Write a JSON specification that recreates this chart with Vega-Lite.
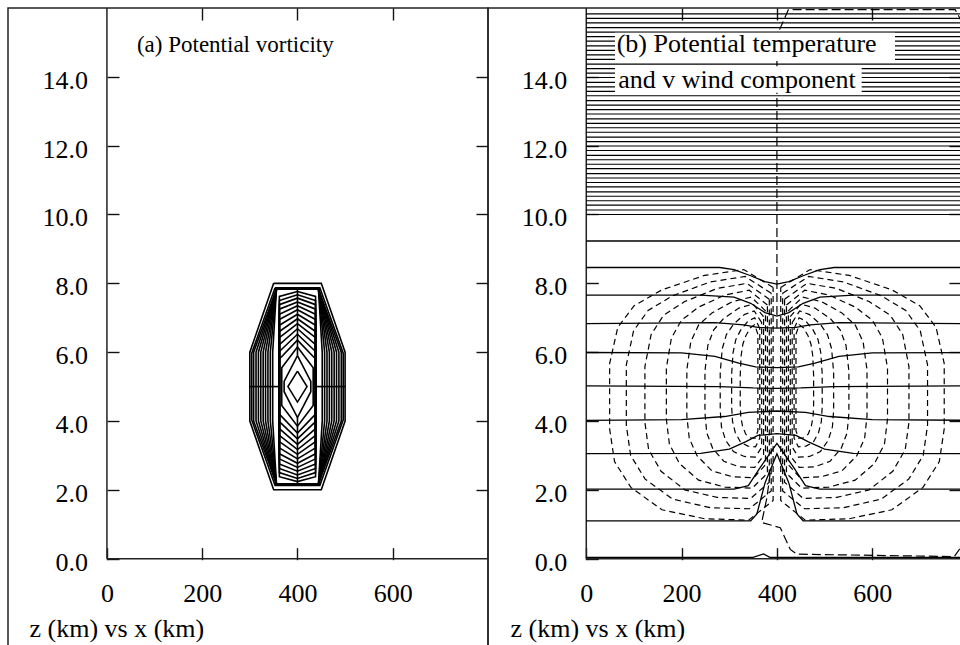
{
"$schema": "https://vega.github.io/schema/vega-lite/v6.json",
"background": "white",
"padding": {"left": 7, "top": 6, "right": 0, "bottom": 0},
"spacing": 0,
"bounds": "flush",
"config": {
  "view": {"stroke": "#222", "strokeWidth": 1.5},
  "font": "Liberation Serif",
  "axis": {"labelFont": "Liberation Serif", "labelFontSize": 26, "labelColor": "black", "tickColor": "#111", "tickWidth": 1.4, "domain": false, "grid": false, "titleFont": "Liberation Serif", "titleFontSize": 26, "titleFontWeight": "normal", "titleColor": "black", "labelFlush": false, "labelOverlap": false, "labelBound": false, "tickSize": -12}
},
"datasets": {
  "pv": [
    {"c":"c0","o":0,"x":350,"y":8},{"c":"c0","o":1,"x":450,"y":8},{"c":"c0","o":2,"x":500,"y":6},{"c":"c0","o":3,"x":500,"y":4},{"c":"c0","o":4,"x":450,"y":2},{"c":"c0","o":5,"x":350,"y":2},{"c":"c0","o":6,"x":300,"y":4},{"c":"c0","o":7,"x":300,"y":6},{"c":"c0","o":8,"x":350,"y":8},
    {"c":"c1","o":0,"x":353,"y":7.87},{"c":"c1","o":1,"x":447,"y":7.87},{"c":"c1","o":2,"x":496,"y":5.97},{"c":"c1","o":3,"x":496,"y":4.03},{"c":"c1","o":4,"x":447,"y":2.13},{"c":"c1","o":5,"x":353,"y":2.13},{"c":"c1","o":6,"x":304,"y":4.03},{"c":"c1","o":7,"x":304,"y":5.97},{"c":"c1","o":8,"x":353,"y":7.87},
    {"c":"s1","o":0,"x":356,"y":7.84},{"c":"s1","o":1,"x":444,"y":7.84},{"c":"s1","o":2,"x":492,"y":6},{"c":"s1","o":3,"x":492,"y":4},{"c":"s1","o":4,"x":444,"y":2.16},{"c":"s1","o":5,"x":356,"y":2.16},{"c":"s1","o":6,"x":308,"y":4},{"c":"s1","o":7,"x":308,"y":6},{"c":"s1","o":8,"x":356,"y":7.84},
    {"c":"s2","o":0,"x":356,"y":7.84},{"c":"s2","o":1,"x":444,"y":7.84},{"c":"s2","o":2,"x":487,"y":6},{"c":"s2","o":3,"x":487,"y":4},{"c":"s2","o":4,"x":444,"y":2.16},{"c":"s2","o":5,"x":356,"y":2.16},{"c":"s2","o":6,"x":313,"y":4},{"c":"s2","o":7,"x":313,"y":6},{"c":"s2","o":8,"x":356,"y":7.84},
    {"c":"s3","o":0,"x":356,"y":7.84},{"c":"s3","o":1,"x":444,"y":7.84},{"c":"s3","o":2,"x":482,"y":6},{"c":"s3","o":3,"x":482,"y":4},{"c":"s3","o":4,"x":444,"y":2.16},{"c":"s3","o":5,"x":356,"y":2.16},{"c":"s3","o":6,"x":318,"y":4},{"c":"s3","o":7,"x":318,"y":6},{"c":"s3","o":8,"x":356,"y":7.84},
    {"c":"s4","o":0,"x":356,"y":7.84},{"c":"s4","o":1,"x":444,"y":7.84},{"c":"s4","o":2,"x":477,"y":6},{"c":"s4","o":3,"x":477,"y":4},{"c":"s4","o":4,"x":444,"y":2.16},{"c":"s4","o":5,"x":356,"y":2.16},{"c":"s4","o":6,"x":323,"y":4},{"c":"s4","o":7,"x":323,"y":6},{"c":"s4","o":8,"x":356,"y":7.84},
    {"c":"s5","o":0,"x":356,"y":7.84},{"c":"s5","o":1,"x":444,"y":7.84},{"c":"s5","o":2,"x":472,"y":6},{"c":"s5","o":3,"x":472,"y":4},{"c":"s5","o":4,"x":444,"y":2.16},{"c":"s5","o":5,"x":356,"y":2.16},{"c":"s5","o":6,"x":328,"y":4},{"c":"s5","o":7,"x":328,"y":6},{"c":"s5","o":8,"x":356,"y":7.84},
    {"c":"s6","o":0,"x":356,"y":7.84},{"c":"s6","o":1,"x":444,"y":7.84},{"c":"s6","o":2,"x":467,"y":6},{"c":"s6","o":3,"x":467,"y":4},{"c":"s6","o":4,"x":444,"y":2.16},{"c":"s6","o":5,"x":356,"y":2.16},{"c":"s6","o":6,"x":333,"y":4},{"c":"s6","o":7,"x":333,"y":6},{"c":"s6","o":8,"x":356,"y":7.84},
    {"c":"s7","o":0,"x":356,"y":7.84},{"c":"s7","o":1,"x":444,"y":7.84},{"c":"s7","o":2,"x":462,"y":6},{"c":"s7","o":3,"x":462,"y":4},{"c":"s7","o":4,"x":444,"y":2.16},{"c":"s7","o":5,"x":356,"y":2.16},{"c":"s7","o":6,"x":338,"y":4},{"c":"s7","o":7,"x":338,"y":6},{"c":"s7","o":8,"x":356,"y":7.84},
    {"c":"s8","o":0,"x":356,"y":7.84},{"c":"s8","o":1,"x":444,"y":7.84},{"c":"s8","o":2,"x":457,"y":6},{"c":"s8","o":3,"x":457,"y":4},{"c":"s8","o":4,"x":444,"y":2.16},{"c":"s8","o":5,"x":356,"y":2.16},{"c":"s8","o":6,"x":343,"y":4},{"c":"s8","o":7,"x":343,"y":6},{"c":"s8","o":8,"x":356,"y":7.84},
    {"c":"s9","o":0,"x":356,"y":7.84},{"c":"s9","o":1,"x":444,"y":7.84},{"c":"s9","o":2,"x":452,"y":6},{"c":"s9","o":3,"x":452,"y":4},{"c":"s9","o":4,"x":444,"y":2.16},{"c":"s9","o":5,"x":356,"y":2.16},{"c":"s9","o":6,"x":348,"y":4},{"c":"s9","o":7,"x":348,"y":6},{"c":"s9","o":8,"x":356,"y":7.84},
    {"c":"j1","o":0,"x":400,"y":5.45},{"c":"j1","o":1,"x":420,"y":5},{"c":"j1","o":2,"x":400,"y":4.55},{"c":"j1","o":3,"x":380,"y":5},{"c":"j1","o":4,"x":400,"y":5.45},
    {"c":"j2","o":0,"x":400,"y":5.9},{"c":"j2","o":1,"x":428,"y":5.15},{"c":"j2","o":2,"x":428,"y":4.85},{"c":"j2","o":3,"x":400,"y":4.1},{"c":"j2","o":4,"x":372,"y":4.85},{"c":"j2","o":5,"x":372,"y":5.15},{"c":"j2","o":6,"x":400,"y":5.9},
    {"c":"j3","o":0,"x":400,"y":6.15},{"c":"j3","o":1,"x":433,"y":5.55},{"c":"j3","o":2,"x":433,"y":4.45},{"c":"j3","o":3,"x":400,"y":3.85},{"c":"j3","o":4,"x":367,"y":4.45},{"c":"j3","o":5,"x":367,"y":5.55},{"c":"j3","o":6,"x":400,"y":6.15},
    {"c":"j4","o":0,"x":400,"y":6.35},{"c":"j4","o":1,"x":438,"y":5.8},{"c":"j4","o":2,"x":438,"y":4.2},{"c":"j4","o":3,"x":400,"y":3.65},{"c":"j4","o":4,"x":362,"y":4.2},{"c":"j4","o":5,"x":362,"y":5.8},{"c":"j4","o":6,"x":400,"y":6.35},
    {"c":"j5","o":0,"x":400,"y":6.52},{"c":"j5","o":1,"x":438,"y":6.02},{"c":"j5","o":2,"x":438,"y":3.98},{"c":"j5","o":3,"x":400,"y":3.48},{"c":"j5","o":4,"x":362,"y":3.98},{"c":"j5","o":5,"x":362,"y":6.02},{"c":"j5","o":6,"x":400,"y":6.52},
    {"c":"j6","o":0,"x":400,"y":6.68},{"c":"j6","o":1,"x":438,"y":6.22},{"c":"j6","o":2,"x":438,"y":3.78},{"c":"j6","o":3,"x":400,"y":3.32},{"c":"j6","o":4,"x":362,"y":3.78},{"c":"j6","o":5,"x":362,"y":6.22},{"c":"j6","o":6,"x":400,"y":6.68},
    {"c":"j7","o":0,"x":400,"y":6.83},{"c":"j7","o":1,"x":438,"y":6.42},{"c":"j7","o":2,"x":438,"y":3.58},{"c":"j7","o":3,"x":400,"y":3.17},{"c":"j7","o":4,"x":362,"y":3.58},{"c":"j7","o":5,"x":362,"y":6.42},{"c":"j7","o":6,"x":400,"y":6.83},
    {"c":"j8","o":0,"x":400,"y":6.97},{"c":"j8","o":1,"x":438,"y":6.6},{"c":"j8","o":2,"x":438,"y":3.4},{"c":"j8","o":3,"x":400,"y":3.03},{"c":"j8","o":4,"x":362,"y":3.4},{"c":"j8","o":5,"x":362,"y":6.6},{"c":"j8","o":6,"x":400,"y":6.97},
    {"c":"j9","o":0,"x":400,"y":7.1},{"c":"j9","o":1,"x":438,"y":6.78},{"c":"j9","o":2,"x":438,"y":3.22},{"c":"j9","o":3,"x":400,"y":2.9},{"c":"j9","o":4,"x":362,"y":3.22},{"c":"j9","o":5,"x":362,"y":6.78},{"c":"j9","o":6,"x":400,"y":7.1},
    {"c":"j10","o":0,"x":400,"y":7.23},{"c":"j10","o":1,"x":438,"y":6.95},{"c":"j10","o":2,"x":438,"y":3.05},{"c":"j10","o":3,"x":400,"y":2.77},{"c":"j10","o":4,"x":362,"y":3.05},{"c":"j10","o":5,"x":362,"y":6.95},{"c":"j10","o":6,"x":400,"y":7.23},
    {"c":"j11","o":0,"x":400,"y":7.35},{"c":"j11","o":1,"x":438,"y":7.1},{"c":"j11","o":2,"x":438,"y":2.9},{"c":"j11","o":3,"x":400,"y":2.65},{"c":"j11","o":4,"x":362,"y":2.9},{"c":"j11","o":5,"x":362,"y":7.1},{"c":"j11","o":6,"x":400,"y":7.35},
    {"c":"j12","o":0,"x":400,"y":7.46},{"c":"j12","o":1,"x":438,"y":7.25},{"c":"j12","o":2,"x":438,"y":2.75},{"c":"j12","o":3,"x":400,"y":2.54},{"c":"j12","o":4,"x":362,"y":2.75},{"c":"j12","o":5,"x":362,"y":7.25},{"c":"j12","o":6,"x":400,"y":7.46},
    {"c":"j13","o":0,"x":400,"y":7.57},{"c":"j13","o":1,"x":438,"y":7.38},{"c":"j13","o":2,"x":438,"y":2.62},{"c":"j13","o":3,"x":400,"y":2.43},{"c":"j13","o":4,"x":362,"y":2.62},{"c":"j13","o":5,"x":362,"y":7.38},{"c":"j13","o":6,"x":400,"y":7.57},
    {"c":"j14","o":0,"x":400,"y":7.67},{"c":"j14","o":1,"x":438,"y":7.5},{"c":"j14","o":2,"x":438,"y":2.5},{"c":"j14","o":3,"x":400,"y":2.33},{"c":"j14","o":4,"x":362,"y":2.5},{"c":"j14","o":5,"x":362,"y":7.5},{"c":"j14","o":6,"x":400,"y":7.67},
    {"c":"j15","o":0,"x":400,"y":7.76},{"c":"j15","o":1,"x":438,"y":7.62},{"c":"j15","o":2,"x":438,"y":2.38},{"c":"j15","o":3,"x":400,"y":2.24},{"c":"j15","o":4,"x":362,"y":2.38},{"c":"j15","o":5,"x":362,"y":7.62},{"c":"j15","o":6,"x":400,"y":7.76},
    {"c":"h1","o":0,"x":300,"y":5},{"c":"h1","o":1,"x":362,"y":5},
    {"c":"h2","o":0,"x":438,"y":5},{"c":"h2","o":1,"x":500,"y":5},
    {"c":"v1","o":0,"x":400,"y":7.84},{"c":"v1","o":1,"x":400,"y":5.9},
    {"c":"v2","o":0,"x":400,"y":4.1},{"c":"v2","o":1,"x":400,"y":2.16}
  ],
  "strat": [
    {"y":10.00},{"y":10.13},{"y":10.27},{"y":10.40},{"y":10.53},{"y":10.66},{"y":10.80},{"y":10.93},{"y":11.06},{"y":11.19},{"y":11.33},{"y":11.46},{"y":11.59},{"y":11.72},{"y":11.86},{"y":11.99},{"y":12.12},{"y":12.25},{"y":12.39},{"y":12.52},{"y":12.65},{"y":12.78},{"y":12.92},{"y":13.05},{"y":13.18},{"y":13.31},{"y":13.45},{"y":13.58},{"y":13.71},{"y":13.84},{"y":13.98},{"y":14.11},{"y":14.24},{"y":14.37},{"y":14.51},{"y":14.64},{"y":14.77},{"y":14.90},{"y":15.04},{"y":15.17},{"y":15.30},{"y":15.43},{"y":15.57},{"y":15.70},{"y":15.83}
  ],
  "theta": [
    {"c":"t0","o":0,"x":0,"y":0.04},{"c":"t0","o":1,"x":350,"y":0.04},{"c":"t0","o":2,"x":372,"y":0.14},{"c":"t0","o":3,"x":385,"y":0.04},{"c":"t0","o":4,"x":800,"y":0.04},
    {"c":"t1","o":0,"x":0,"y":1.1},{"c":"t1","o":1,"x":345,"y":1.1},{"c":"t1","o":2,"x":358,"y":1.3},{"c":"t1","o":3,"x":375,"y":2.2},{"c":"t1","o":4,"x":400,"y":3.05},{"c":"t1","o":5,"x":425,"y":2.2},{"c":"t1","o":6,"x":442,"y":1.3},{"c":"t1","o":7,"x":455,"y":1.1},{"c":"t1","o":8,"x":800,"y":1.1},
    {"c":"t2","o":0,"x":0,"y":2.02},{"c":"t2","o":1,"x":310,"y":2.02},{"c":"t2","o":2,"x":340,"y":2.12},{"c":"t2","o":3,"x":365,"y":2.65},{"c":"t2","o":4,"x":400,"y":3.35},{"c":"t2","o":5,"x":435,"y":2.65},{"c":"t2","o":6,"x":460,"y":2.12},{"c":"t2","o":7,"x":490,"y":2.02},{"c":"t2","o":8,"x":800,"y":2.02},
    {"c":"t3","o":0,"x":0,"y":3.05},{"c":"t3","o":1,"x":240,"y":3.06},{"c":"t3","o":2,"x":300,"y":3.18},{"c":"t3","o":3,"x":335,"y":3.4},{"c":"t3","o":4,"x":360,"y":3.58},{"c":"t3","o":5,"x":400,"y":3.63},{"c":"t3","o":6,"x":440,"y":3.58},{"c":"t3","o":7,"x":465,"y":3.4},{"c":"t3","o":8,"x":500,"y":3.18},{"c":"t3","o":9,"x":560,"y":3.06},{"c":"t3","o":10,"x":800,"y":3.05},
    {"c":"t4","o":0,"x":0,"y":4.02},{"c":"t4","o":1,"x":200,"y":4.04},{"c":"t4","o":2,"x":290,"y":4.13},{"c":"t4","o":3,"x":340,"y":4.25},{"c":"t4","o":4,"x":400,"y":4.29},{"c":"t4","o":5,"x":460,"y":4.25},{"c":"t4","o":6,"x":510,"y":4.13},{"c":"t4","o":7,"x":600,"y":4.04},{"c":"t4","o":8,"x":800,"y":4.02},
    {"c":"t5","o":0,"x":0,"y":5.02},{"c":"t5","o":1,"x":280,"y":5.0},{"c":"t5","o":2,"x":350,"y":4.96},{"c":"t5","o":3,"x":400,"y":4.95},{"c":"t5","o":4,"x":450,"y":4.96},{"c":"t5","o":5,"x":520,"y":5.0},{"c":"t5","o":6,"x":800,"y":5.02},
    {"c":"t6","o":0,"x":0,"y":5.99},{"c":"t6","o":1,"x":200,"y":5.98},{"c":"t6","o":2,"x":270,"y":5.88},{"c":"t6","o":3,"x":320,"y":5.68},{"c":"t6","o":4,"x":355,"y":5.57},{"c":"t6","o":5,"x":400,"y":5.55},{"c":"t6","o":6,"x":445,"y":5.57},{"c":"t6","o":7,"x":480,"y":5.68},{"c":"t6","o":8,"x":530,"y":5.88},{"c":"t6","o":9,"x":600,"y":5.98},{"c":"t6","o":10,"x":800,"y":5.99},
    {"c":"t7","o":0,"x":0,"y":6.83},{"c":"t7","o":1,"x":270,"y":6.86},{"c":"t7","o":2,"x":330,"y":6.79},{"c":"t7","o":3,"x":360,"y":6.72},{"c":"t7","o":4,"x":400,"y":6.7},{"c":"t7","o":5,"x":440,"y":6.72},{"c":"t7","o":6,"x":470,"y":6.79},{"c":"t7","o":7,"x":530,"y":6.86},{"c":"t7","o":8,"x":800,"y":6.83},
    {"c":"t8","o":0,"x":0,"y":7.66},{"c":"t8","o":1,"x":240,"y":7.66},{"c":"t8","o":2,"x":310,"y":7.6},{"c":"t8","o":3,"x":345,"y":7.42},{"c":"t8","o":4,"x":375,"y":7.15},{"c":"t8","o":5,"x":400,"y":7.05},{"c":"t8","o":6,"x":425,"y":7.15},{"c":"t8","o":7,"x":455,"y":7.42},{"c":"t8","o":8,"x":490,"y":7.6},{"c":"t8","o":9,"x":560,"y":7.66},{"c":"t8","o":10,"x":800,"y":7.66},
    {"c":"t9","o":0,"x":0,"y":8.46},{"c":"t9","o":1,"x":280,"y":8.46},{"c":"t9","o":2,"x":310,"y":8.4},{"c":"t9","o":3,"x":345,"y":8.22},{"c":"t9","o":4,"x":375,"y":8.05},{"c":"t9","o":5,"x":400,"y":7.98},{"c":"t9","o":6,"x":425,"y":8.05},{"c":"t9","o":7,"x":455,"y":8.22},{"c":"t9","o":8,"x":490,"y":8.4},{"c":"t9","o":9,"x":520,"y":8.46},{"c":"t9","o":10,"x":800,"y":8.46},
    {"c":"t10","o":0,"x":0,"y":9.23},{"c":"t10","o":1,"x":800,"y":9.23}
  ],
  "vloops": [
    {"c":"k1","o":0,"x":392,"y":7.88},{"c":"k1","o":1,"x":330.3,"y":8.4},{"c":"k1","o":2,"x":248,"y":8.23},{"c":"k1","o":3,"x":158.8,"y":7.81},{"c":"k1","o":4,"x":100.4,"y":7.35},{"c":"k1","o":5,"x":66.1,"y":6.72},{"c":"k1","o":6,"x":49,"y":5.67},{"c":"k1","o":7,"x":49,"y":3.77},{"c":"k1","o":8,"x":59.3,"y":2.82},{"c":"k1","o":9,"x":93.6,"y":2.07},{"c":"k1","o":10,"x":158.8,"y":1.42},{"c":"k1","o":11,"x":248,"y":1.16},{"c":"k1","o":12,"x":340.5,"y":1.12},{"c":"k1","o":13,"x":392,"y":1.69},{"c":"k1","o":14,"x":392,"y":7.88},
    {"c":"m1","o":0,"x":408,"y":7.88},{"c":"m1","o":1,"x":469.7,"y":8.4},{"c":"m1","o":2,"x":552,"y":8.23},{"c":"m1","o":3,"x":641.2,"y":7.81},{"c":"m1","o":4,"x":699.6,"y":7.35},{"c":"m1","o":5,"x":733.9,"y":6.72},{"c":"m1","o":6,"x":751,"y":5.67},{"c":"m1","o":7,"x":751,"y":3.77},{"c":"m1","o":8,"x":740.7,"y":2.82},{"c":"m1","o":9,"x":706.4,"y":2.07},{"c":"m1","o":10,"x":641.2,"y":1.42},{"c":"m1","o":11,"x":552,"y":1.16},{"c":"m1","o":12,"x":459.5,"y":1.12},{"c":"m1","o":13,"x":408,"y":1.69},{"c":"m1","o":14,"x":408,"y":7.88},
    {"c":"k2","o":0,"x":388,"y":7.71},{"c":"k2","o":1,"x":333.3,"y":8.2},{"c":"k2","o":2,"x":260.3,"y":8.04},{"c":"k2","o":3,"x":181.3,"y":7.64},{"c":"k2","o":4,"x":129.6,"y":7.21},{"c":"k2","o":5,"x":99.2,"y":6.62},{"c":"k2","o":6,"x":84,"y":5.63},{"c":"k2","o":7,"x":84,"y":3.87},{"c":"k2","o":8,"x":93.1,"y":3.0},{"c":"k2","o":9,"x":123.5,"y":2.31},{"c":"k2","o":10,"x":181.3,"y":1.73},{"c":"k2","o":11,"x":260.3,"y":1.48},{"c":"k2","o":12,"x":342.4,"y":1.45},{"c":"k2","o":13,"x":388,"y":1.97},{"c":"k2","o":14,"x":388,"y":7.71},
    {"c":"m2","o":0,"x":412,"y":7.71},{"c":"m2","o":1,"x":466.7,"y":8.2},{"c":"m2","o":2,"x":539.7,"y":8.04},{"c":"m2","o":3,"x":618.7,"y":7.64},{"c":"m2","o":4,"x":670.4,"y":7.21},{"c":"m2","o":5,"x":700.8,"y":6.62},{"c":"m2","o":6,"x":716,"y":5.63},{"c":"m2","o":7,"x":716,"y":3.87},{"c":"m2","o":8,"x":706.9,"y":3.0},{"c":"m2","o":9,"x":676.5,"y":2.31},{"c":"m2","o":10,"x":618.7,"y":1.73},{"c":"m2","o":11,"x":539.7,"y":1.48},{"c":"m2","o":12,"x":457.6,"y":1.45},{"c":"m2","o":13,"x":412,"y":1.97},{"c":"m2","o":14,"x":412,"y":7.71},
    {"c":"k3","o":0,"x":384,"y":7.54},{"c":"k3","o":1,"x":337,"y":8.0},{"c":"k3","o":2,"x":274.4,"y":7.85},{"c":"k3","o":3,"x":206.5,"y":7.47},{"c":"k3","o":4,"x":162.1,"y":7.07},{"c":"k3","o":5,"x":136,"y":6.51},{"c":"k3","o":6,"x":123,"y":5.58},{"c":"k3","o":7,"x":123,"y":3.96},{"c":"k3","o":8,"x":130.8,"y":3.17},{"c":"k3","o":9,"x":156.9,"y":2.54},{"c":"k3","o":10,"x":206.5,"y":2.0},{"c":"k3","o":11,"x":274.4,"y":1.78},{"c":"k3","o":12,"x":344.8,"y":1.75},{"c":"k3","o":13,"x":384,"y":2.22},{"c":"k3","o":14,"x":384,"y":7.54},
    {"c":"m3","o":0,"x":416,"y":7.54},{"c":"m3","o":1,"x":463,"y":8.0},{"c":"m3","o":2,"x":525.6,"y":7.85},{"c":"m3","o":3,"x":593.5,"y":7.47},{"c":"m3","o":4,"x":637.9,"y":7.07},{"c":"m3","o":5,"x":664,"y":6.51},{"c":"m3","o":6,"x":677,"y":5.58},{"c":"m3","o":7,"x":677,"y":3.96},{"c":"m3","o":8,"x":669.2,"y":3.17},{"c":"m3","o":9,"x":643.1,"y":2.54},{"c":"m3","o":10,"x":593.5,"y":2.0},{"c":"m3","o":11,"x":525.6,"y":1.78},{"c":"m3","o":12,"x":455.2,"y":1.75},{"c":"m3","o":13,"x":416,"y":2.22},{"c":"m3","o":14,"x":416,"y":7.54},
    {"c":"k4","o":0,"x":380,"y":7.37},{"c":"k4","o":1,"x":341.8,"y":7.8},{"c":"k4","o":2,"x":291,"y":7.66},{"c":"k4","o":3,"x":235.8,"y":7.31},{"c":"k4","o":4,"x":199.8,"y":6.93},{"c":"k4","o":5,"x":178.6,"y":6.41},{"c":"k4","o":6,"x":168,"y":5.54},{"c":"k4","o":7,"x":168,"y":4.05},{"c":"k4","o":8,"x":174.4,"y":3.33},{"c":"k4","o":9,"x":195.6,"y":2.76},{"c":"k4","o":10,"x":235.8,"y":2.28},{"c":"k4","o":11,"x":291,"y":2.08},{"c":"k4","o":12,"x":348.2,"y":2.05},{"c":"k4","o":13,"x":380,"y":2.48},{"c":"k4","o":14,"x":380,"y":7.37},
    {"c":"m4","o":0,"x":420,"y":7.37},{"c":"m4","o":1,"x":458.2,"y":7.8},{"c":"m4","o":2,"x":509,"y":7.66},{"c":"m4","o":3,"x":564.2,"y":7.31},{"c":"m4","o":4,"x":600.2,"y":6.93},{"c":"m4","o":5,"x":621.4,"y":6.41},{"c":"m4","o":6,"x":632,"y":5.54},{"c":"m4","o":7,"x":632,"y":4.05},{"c":"m4","o":8,"x":625.6,"y":3.33},{"c":"m4","o":9,"x":604.4,"y":2.76},{"c":"m4","o":10,"x":564.2,"y":2.28},{"c":"m4","o":11,"x":509,"y":2.08},{"c":"m4","o":12,"x":451.8,"y":2.05},{"c":"m4","o":13,"x":420,"y":2.48},{"c":"m4","o":14,"x":420,"y":7.37},
    {"c":"k5","o":0,"x":376,"y":7.2},{"c":"k5","o":1,"x":346.3,"y":7.6},{"c":"k5","o":2,"x":306.7,"y":7.47},{"c":"k5","o":3,"x":263.8,"y":7.14},{"c":"k5","o":4,"x":235.7,"y":6.79},{"c":"k5","o":5,"x":219.2,"y":6.3},{"c":"k5","o":6,"x":211,"y":5.49},{"c":"k5","o":7,"x":211,"y":4.14},{"c":"k5","o":8,"x":216,"y":3.5},{"c":"k5","o":9,"x":232.4,"y":2.99},{"c":"k5","o":10,"x":263.8,"y":2.55},{"c":"k5","o":11,"x":306.7,"y":2.38},{"c":"k5","o":12,"x":351.2,"y":2.35},{"c":"k5","o":13,"x":376,"y":2.73},{"c":"k5","o":14,"x":376,"y":7.2},
    {"c":"m5","o":0,"x":424,"y":7.2},{"c":"m5","o":1,"x":453.7,"y":7.6},{"c":"m5","o":2,"x":493.3,"y":7.47},{"c":"m5","o":3,"x":536.2,"y":7.14},{"c":"m5","o":4,"x":564.3,"y":6.79},{"c":"m5","o":5,"x":580.8,"y":6.3},{"c":"m5","o":6,"x":589,"y":5.49},{"c":"m5","o":7,"x":589,"y":4.14},{"c":"m5","o":8,"x":584,"y":3.5},{"c":"m5","o":9,"x":567.6,"y":2.99},{"c":"m5","o":10,"x":536.2,"y":2.55},{"c":"m5","o":11,"x":493.3,"y":2.38},{"c":"m5","o":12,"x":448.8,"y":2.35},{"c":"m5","o":13,"x":424,"y":2.73},{"c":"m5","o":14,"x":424,"y":7.2},
    {"c":"k6","o":0,"x":372,"y":7.03},{"c":"k6","o":1,"x":349.9,"y":7.4},{"c":"k6","o":2,"x":320.3,"y":7.28},{"c":"k6","o":3,"x":288.4,"y":6.98},{"c":"k6","o":4,"x":267.4,"y":6.65},{"c":"k6","o":5,"x":255.1,"y":6.2},{"c":"k6","o":6,"x":249,"y":5.45},{"c":"k6","o":7,"x":249,"y":4.23},{"c":"k6","o":8,"x":252.7,"y":3.66},{"c":"k6","o":9,"x":265,"y":3.21},{"c":"k6","o":10,"x":288.4,"y":2.83},{"c":"k6","o":11,"x":320.3,"y":2.67},{"c":"k6","o":12,"x":353.5,"y":2.65},{"c":"k6","o":13,"x":372,"y":2.99},{"c":"k6","o":14,"x":372,"y":7.03},
    {"c":"m6","o":0,"x":428,"y":7.03},{"c":"m6","o":1,"x":450.1,"y":7.4},{"c":"m6","o":2,"x":479.7,"y":7.28},{"c":"m6","o":3,"x":511.6,"y":6.98},{"c":"m6","o":4,"x":532.6,"y":6.65},{"c":"m6","o":5,"x":544.9,"y":6.2},{"c":"m6","o":6,"x":551,"y":5.45},{"c":"m6","o":7,"x":551,"y":4.23},{"c":"m6","o":8,"x":547.3,"y":3.66},{"c":"m6","o":9,"x":535,"y":3.21},{"c":"m6","o":10,"x":511.6,"y":2.83},{"c":"m6","o":11,"x":479.7,"y":2.67},{"c":"m6","o":12,"x":446.5,"y":2.65},{"c":"m6","o":13,"x":428,"y":2.99},{"c":"m6","o":14,"x":428,"y":7.03},
    {"c":"k7","o":0,"x":368,"y":6.86},{"c":"k7","o":1,"x":352.3,"y":7.2},{"c":"k7","o":2,"x":331.5,"y":7.09},{"c":"k7","o":3,"x":308.8,"y":6.81},{"c":"k7","o":4,"x":294,"y":6.51},{"c":"k7","o":5,"x":285.3,"y":6.1},{"c":"k7","o":6,"x":281,"y":5.41},{"c":"k7","o":7,"x":281,"y":4.32},{"c":"k7","o":8,"x":283.6,"y":3.83},{"c":"k7","o":9,"x":292.3,"y":3.44},{"c":"k7","o":10,"x":308.8,"y":3.11},{"c":"k7","o":11,"x":331.5,"y":2.97},{"c":"k7","o":12,"x":354.9,"y":2.95},{"c":"k7","o":13,"x":368,"y":3.24},{"c":"k7","o":14,"x":368,"y":6.86},
    {"c":"m7","o":0,"x":432,"y":6.86},{"c":"m7","o":1,"x":447.7,"y":7.2},{"c":"m7","o":2,"x":468.5,"y":7.09},{"c":"m7","o":3,"x":491.2,"y":6.81},{"c":"m7","o":4,"x":506,"y":6.51},{"c":"m7","o":5,"x":514.7,"y":6.1},{"c":"m7","o":6,"x":519,"y":5.41},{"c":"m7","o":7,"x":519,"y":4.32},{"c":"m7","o":8,"x":516.4,"y":3.83},{"c":"m7","o":9,"x":507.7,"y":3.44},{"c":"m7","o":10,"x":491.2,"y":3.11},{"c":"m7","o":11,"x":468.5,"y":2.97},{"c":"m7","o":12,"x":445.1,"y":2.95},{"c":"m7","o":13,"x":432,"y":3.24},{"c":"m7","o":14,"x":432,"y":6.86},
    {"c":"k8","o":0,"x":364,"y":6.69},{"c":"k8","o":1,"x":353.4,"y":7.0},{"c":"k8","o":2,"x":339.2,"y":6.9},{"c":"k8","o":3,"x":323.9,"y":6.64},{"c":"k8","o":4,"x":313.8,"y":6.37},{"c":"k8","o":5,"x":308,"y":5.99},{"c":"k8","o":6,"x":305,"y":5.36},{"c":"k8","o":7,"x":305,"y":4.41},{"c":"k8","o":8,"x":306.8,"y":3.99},{"c":"k8","o":9,"x":312.7,"y":3.66},{"c":"k8","o":10,"x":323.9,"y":3.38},{"c":"k8","o":11,"x":339.2,"y":3.27},{"c":"k8","o":12,"x":355.1,"y":3.25},{"c":"k8","o":13,"x":364,"y":3.5},{"c":"k8","o":14,"x":364,"y":6.69},
    {"c":"m8","o":0,"x":436,"y":6.69},{"c":"m8","o":1,"x":446.6,"y":7.0},{"c":"m8","o":2,"x":460.8,"y":6.9},{"c":"m8","o":3,"x":476.1,"y":6.64},{"c":"m8","o":4,"x":486.2,"y":6.37},{"c":"m8","o":5,"x":492,"y":5.99},{"c":"m8","o":6,"x":495,"y":5.36},{"c":"m8","o":7,"x":495,"y":4.41},{"c":"m8","o":8,"x":493.2,"y":3.99},{"c":"m8","o":9,"x":487.3,"y":3.66},{"c":"m8","o":10,"x":476.1,"y":3.38},{"c":"m8","o":11,"x":460.8,"y":3.27},{"c":"m8","o":12,"x":444.9,"y":3.25},{"c":"m8","o":13,"x":436,"y":3.5},{"c":"m8","o":14,"x":436,"y":6.69},
    {"c":"k9","o":0,"x":360,"y":6.52},{"c":"k9","o":1,"x":353.3,"y":6.8},{"c":"k9","o":2,"x":344.5,"y":6.71},{"c":"k9","o":3,"x":334.8,"y":6.48},{"c":"k9","o":4,"x":328.5,"y":6.23},{"c":"k9","o":5,"x":324.8,"y":5.89},{"c":"k9","o":6,"x":323,"y":5.32},{"c":"k9","o":7,"x":323,"y":4.48},{"c":"k9","o":8,"x":324.1,"y":4.13},{"c":"k9","o":9,"x":327.8,"y":3.85},{"c":"k9","o":10,"x":334.8,"y":3.61},{"c":"k9","o":11,"x":344.5,"y":3.51},{"c":"k9","o":12,"x":354.4,"y":3.5},{"c":"k9","o":13,"x":360,"y":3.71},{"c":"k9","o":14,"x":360,"y":6.52},
    {"c":"m9","o":0,"x":440,"y":6.52},{"c":"m9","o":1,"x":446.7,"y":6.8},{"c":"m9","o":2,"x":455.5,"y":6.71},{"c":"m9","o":3,"x":465.2,"y":6.48},{"c":"m9","o":4,"x":471.5,"y":6.23},{"c":"m9","o":5,"x":475.2,"y":5.89},{"c":"m9","o":6,"x":477,"y":5.32},{"c":"m9","o":7,"x":477,"y":4.48},{"c":"m9","o":8,"x":475.9,"y":4.13},{"c":"m9","o":9,"x":472.2,"y":3.85},{"c":"m9","o":10,"x":465.2,"y":3.61},{"c":"m9","o":11,"x":455.5,"y":3.51},{"c":"m9","o":12,"x":445.6,"y":3.5},{"c":"m9","o":13,"x":440,"y":3.71},{"c":"m9","o":14,"x":440,"y":6.52}
  ],
  "vextra": [
    {"c":"e1","o":0,"x":400,"y":6.7},{"c":"e1","o":1,"x":400,"y":15.2},{"c":"e1","o":2,"x":424,"y":15.95},{"c":"e1","o":3,"x":774,"y":15.95},{"c":"e1","o":4,"x":792,"y":15.5},
    {"c":"e2","o":0,"x":386,"y":2.5},{"c":"e2","o":1,"x":379,"y":1.77},{"c":"e2","o":2,"x":368,"y":1.05},{"c":"e2","o":3,"x":407,"y":0.9},{"c":"e2","o":4,"x":428,"y":0.27},{"c":"e2","o":5,"x":442,"y":0.13},{"c":"e2","o":6,"x":772,"y":0.06},{"c":"e2","o":7,"x":792,"y":0.45}
  ]
},
"hconcat": [
  {
    "width": 480,
    "height": 639,
    "layer": [
      {
        "data": {"values": [{}]},
        "mark": {"type": "rule", "color": "#222", "strokeWidth": 1.5},
        "encoding": {
          "x": {"datum": 0, "type": "quantitative", "scale": {"domain": [-207.7, 800], "nice": false, "zero": false},
                "axis": {"orient": "bottom", "offset": -87.3, "values": [0, 200, 400, 600], "labelPadding": 53.6, "labelBaseline": "alphabetic", "title": "z (km) vs x (km)", "titleAnchor": "start", "titleAlign": "left", "titleBaseline": "alphabetic", "titleX": 21, "titleY": 77}},
          "y": {"datum": 0, "type": "quantitative", "scale": {"domain": [-2.567, 16], "nice": false, "zero": false},
                "axis": {"orient": "left", "offset": -99, "values": [0, 2, 4, 6, 8, 10, 12, 14], "format": ".1f", "labelPadding": 31.6, "labelBaseline": "alphabetic", "labelOffset": 11.5, "title": null}},
          "y2": {"datum": 16}
        }
      },
      {
        "data": {"values": [{}]},
        "mark": {"type": "rule", "color": "#222", "strokeWidth": 1.5},
        "encoding": {
          "x": {"datum": 0, "type": "quantitative", "scale": {"domain": [-207.7, 800], "nice": false, "zero": false},
                "axis": {"orient": "top", "values": [200, 400, 600], "labels": false, "title": null}},
          "x2": {"datum": 800},
          "y": {"datum": 0, "type": "quantitative", "scale": {"domain": [-2.567, 16], "nice": false, "zero": false},
                "axis": {"orient": "right", "values": [2, 4, 6, 8, 10, 12, 14], "labels": false, "title": null}}
        }
      },
      {
        "data": {"name": "pv"},
        "mark": {"type": "line", "color": "black", "strokeWidth": 1.6},
        "encoding": {
          "x": {"field": "x", "type": "quantitative", "scale": {"domain": [-207.7, 800], "nice": false, "zero": false}, "axis": null},
          "y": {"field": "y", "type": "quantitative", "scale": {"domain": [-2.567, 16], "nice": false, "zero": false}, "axis": null},
          "detail": {"field": "c"},
          "order": {"field": "o"}
        }
      },
      {
        "data": {"values": [{}]},
        "mark": {"type": "text", "font": "Liberation Serif", "fontSize": 23, "align": "left", "baseline": "alphabetic", "color": "black"},
        "encoding": {
          "x": {"datum": 63, "type": "quantitative", "axis": null},
          "y": {"datum": 14.72, "type": "quantitative", "axis": null},
          "text": {"value": "(a) Potential vorticity"}
        }
      }
    ]
  },
  {
    "width": 473,
    "height": 639,
    "layer": [
      {
        "data": {"values": [{}]},
        "mark": {"type": "rule", "color": "#222", "strokeWidth": 1.5},
        "encoding": {
          "x": {"datum": 0, "type": "quantitative", "scale": {"domain": [-206.2, 786.2], "nice": false, "zero": false},
                "axis": {"orient": "bottom", "offset": -87.3, "values": [0, 200, 400, 600], "labelPadding": 53.6, "labelBaseline": "alphabetic", "title": "z (km) vs x (km)", "titleAnchor": "start", "titleAlign": "left", "titleBaseline": "alphabetic", "titleX": 22, "titleY": 77}},
          "y": {"datum": 0, "type": "quantitative", "scale": {"domain": [-2.567, 16], "nice": false, "zero": false},
                "axis": {"orient": "left", "offset": -98.3, "values": [0, 2, 4, 6, 8, 10, 12, 14], "format": ".1f", "labelPadding": 31.6, "labelBaseline": "alphabetic", "labelOffset": 11.5, "title": null}},
          "y2": {"datum": 16}
        }
      },
      {
        "data": {"values": [{}]},
        "mark": {"type": "rule", "color": "#222", "strokeWidth": 1.5, "clip": true},
        "encoding": {
          "x": {"datum": 0, "type": "quantitative", "scale": {"domain": [-206.2, 786.2], "nice": false, "zero": false},
                "axis": {"orient": "top", "values": [200, 400, 600], "labels": false, "title": null}},
          "x2": {"datum": 800},
          "y": {"datum": 0, "type": "quantitative", "scale": {"domain": [-2.567, 16], "nice": false, "zero": false},
                "axis": {"orient": "right", "values": [2, 4, 6, 8, 10, 12, 14], "labels": false, "title": null}}
        }
      },
      {
        "data": {"name": "strat"},
        "mark": {"type": "rule", "color": "black", "strokeWidth": 1.2, "clip": true},
        "encoding": {
          "y": {"field": "y", "type": "quantitative", "scale": {"domain": [-2.567, 16], "nice": false, "zero": false}, "axis": null},
          "x": {"datum": 0, "type": "quantitative", "scale": {"domain": [-206.2, 786.2], "nice": false, "zero": false}, "axis": null},
          "x2": {"datum": 800}
        }
      },
      {
        "data": {"name": "theta"},
        "mark": {"type": "line", "color": "black", "strokeWidth": 1.3, "clip": true},
        "encoding": {
          "x": {"field": "x", "type": "quantitative", "scale": {"domain": [-206.2, 786.2], "nice": false, "zero": false}, "axis": null},
          "y": {"field": "y", "type": "quantitative", "scale": {"domain": [-2.567, 16], "nice": false, "zero": false}, "axis": null},
          "detail": {"field": "c"},
          "order": {"field": "o"}
        }
      },
      {
        "data": {"name": "vloops"},
        "mark": {"type": "line", "color": "black", "strokeWidth": 1.2, "strokeDash": [6, 4], "clip": true},
        "encoding": {
          "x": {"field": "x", "type": "quantitative", "scale": {"domain": [-206.2, 786.2], "nice": false, "zero": false}, "axis": null},
          "y": {"field": "y", "type": "quantitative", "scale": {"domain": [-2.567, 16], "nice": false, "zero": false}, "axis": null},
          "detail": {"field": "c"},
          "order": {"field": "o"}
        }
      },
      {
        "data": {"name": "vextra"},
        "mark": {"type": "line", "color": "black", "strokeWidth": 1.2, "strokeDash": [9, 4], "clip": true},
        "encoding": {
          "x": {"field": "x", "type": "quantitative", "scale": {"domain": [-206.2, 786.2], "nice": false, "zero": false}, "axis": null},
          "y": {"field": "y", "type": "quantitative", "scale": {"domain": [-2.567, 16], "nice": false, "zero": false}, "axis": null},
          "detail": {"field": "c"},
          "order": {"field": "o"}
        }
      },
      {
        "data": {"values": [{}]},
        "mark": {"type": "rect", "color": "white", "opacity": 1},
        "encoding": {
          "x": {"datum": 60.2, "type": "quantitative", "axis": null},
          "x2": {"datum": 647.7},
          "y": {"datum": 14.46, "type": "quantitative", "axis": null},
          "y2": {"datum": 15.28}
        }
      },
      {
        "data": {"values": [{}]},
        "mark": {"type": "rect", "color": "white", "opacity": 1},
        "encoding": {
          "x": {"datum": 60.2, "type": "quantitative", "axis": null},
          "x2": {"datum": 577.8},
          "y": {"datum": 13.54, "type": "quantitative", "axis": null},
          "y2": {"datum": 14.31}
        }
      },
      {
        "data": {"values": [{}]},
        "mark": {"type": "text", "font": "Liberation Serif", "fontSize": 26, "align": "left", "baseline": "alphabetic", "color": "black"},
        "encoding": {
          "x": {"datum": 63.8, "type": "quantitative", "axis": null},
          "y": {"datum": 14.72, "type": "quantitative", "axis": null},
          "text": {"value": "(b) Potential temperature"}
        }
      },
      {
        "data": {"values": [{}]},
        "mark": {"type": "text", "font": "Liberation Serif", "fontSize": 26, "align": "left", "baseline": "alphabetic", "color": "black"},
        "encoding": {
          "x": {"datum": 67.1, "type": "quantitative", "axis": null},
          "y": {"datum": 13.67, "type": "quantitative", "axis": null},
          "text": {"value": "and v wind component"}
        }
      }
    ]
  }
]
}
